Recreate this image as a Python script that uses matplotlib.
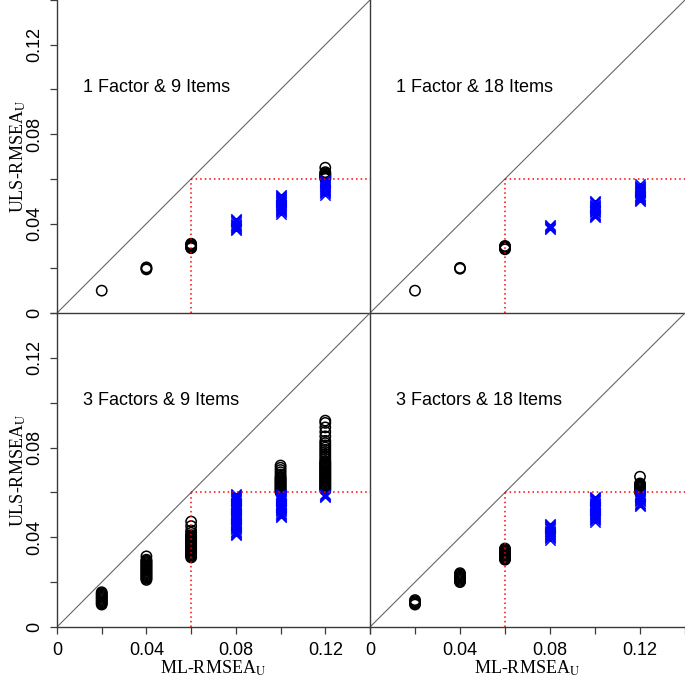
import matplotlib
matplotlib.use("Agg")
import matplotlib.pyplot as plt

plt.rcParams['font.family'] = ['Liberation Sans', 'DejaVu Sans']
plt.rcParams['mathtext.fontset'] = 'stix'

# ---- data (ML-RMSEA_U levels and ULS-RMSEA_U values) ----
ML_LEVELS = [0.02, 0.04, 0.06, 0.08, 0.10, 0.12]

P1_TITLE = "1 Factor & 9 Items"
P1_Y = [
    [0.0100],
    [0.0195, 0.0200, 0.0204],
    [0.0290, 0.0293, 0.0296, 0.0300, 0.0303, 0.0306, 0.0310],
    [0.037, 0.0375, 0.038, 0.0385, 0.039, 0.0395, 0.040, 0.0405,
     0.041, 0.0415, 0.042],
    [0.0445, 0.045, 0.0455, 0.046, 0.0465, 0.047, 0.0475, 0.048,
     0.0485, 0.049, 0.0495, 0.050, 0.0505, 0.051, 0.0515, 0.052,
     0.0525, 0.053],
    [0.053, 0.0535, 0.054, 0.0545, 0.055, 0.0555, 0.056, 0.0565,
     0.057, 0.0575, 0.058, 0.0585, 0.059, 0.0595,
     0.0600, 0.0605, 0.061, 0.0615, 0.062, 0.0625, 0.063, 0.065],
]

P2_TITLE = "1 Factor & 18 Items"
P2_Y = [
    [0.0100],
    [0.0198, 0.0202],
    [0.0285, 0.0288, 0.0291, 0.0294, 0.0297, 0.0300],
    [0.0375, 0.038, 0.0385, 0.039, 0.0395],
    [0.043, 0.0435, 0.044, 0.0445, 0.045, 0.0455, 0.046, 0.0465,
     0.047, 0.0475, 0.048, 0.0485, 0.049, 0.0495, 0.050],
    [0.050, 0.0505, 0.051, 0.0515, 0.052, 0.0525, 0.053, 0.0535,
     0.054, 0.0545, 0.055, 0.0555, 0.056, 0.0565, 0.057, 0.0575],
]

P3_TITLE = "3 Factors & 9 Items"
P3_Y = [
    [0.010, 0.0105, 0.011, 0.0115, 0.012, 0.0125, 0.013, 0.0135,
     0.014, 0.0145, 0.015, 0.0155],
    [0.021, 0.0215, 0.022, 0.0225, 0.023, 0.0235, 0.024, 0.0245,
     0.025, 0.0255, 0.026, 0.0265, 0.027, 0.0275, 0.028, 0.0285,
     0.029, 0.0295, 0.030, 0.0315],
    [0.031, 0.0315, 0.032, 0.0325, 0.033, 0.0335, 0.034, 0.0345,
     0.035, 0.0355, 0.036, 0.0365, 0.037, 0.0375, 0.038, 0.0385,
     0.039, 0.0395, 0.040, 0.0405, 0.041, 0.042, 0.043, 0.045, 0.047],
    [0.041, 0.0415, 0.042, 0.0425, 0.043, 0.0435, 0.044, 0.0445,
     0.045, 0.0455, 0.046, 0.0465, 0.047, 0.0475, 0.048, 0.0485,
     0.049, 0.0495, 0.050, 0.0505, 0.051, 0.0515, 0.052, 0.0525,
     0.053, 0.0535, 0.054, 0.0545, 0.055, 0.0555, 0.056, 0.0565,
     0.057, 0.0575, 0.058, 0.0585, 0.059, 0.0595],
    [0.049, 0.0495, 0.050, 0.0505, 0.051, 0.0515, 0.052, 0.0525,
     0.053, 0.0535, 0.054, 0.0545, 0.055, 0.0555, 0.056, 0.0565,
     0.057, 0.0575, 0.058, 0.0585, 0.059, 0.0595,
     0.060, 0.0605, 0.061, 0.0615, 0.062, 0.0625, 0.063, 0.0635,
     0.064, 0.0645, 0.065, 0.0655, 0.066, 0.0665, 0.067, 0.068,
     0.069, 0.070, 0.071, 0.072],
    [0.058, 0.0585, 0.059, 0.0595, 0.061, 0.0615, 0.062, 0.0625,
     0.063, 0.0635, 0.064, 0.0645, 0.065, 0.0655, 0.066, 0.0665,
     0.067, 0.0675, 0.068, 0.0685, 0.069, 0.0695, 0.070, 0.0705,
     0.071, 0.0715, 0.072, 0.0725, 0.073, 0.0735, 0.074, 0.075,
     0.076, 0.077, 0.078, 0.079, 0.080, 0.081, 0.082, 0.083, 0.085,
     0.087, 0.089, 0.091, 0.092],
]

P4_TITLE = "3 Factors & 18 Items"
P4_Y = [
    [0.0100, 0.0105, 0.0110, 0.0115, 0.0120],
    [0.020, 0.0205, 0.021, 0.0215, 0.022, 0.0225, 0.023, 0.0235,
     0.024],
    [0.030, 0.0305, 0.031, 0.0315, 0.032, 0.0325, 0.033, 0.0335,
     0.034, 0.0345, 0.035],
    [0.039, 0.0395, 0.040, 0.0405, 0.041, 0.0415, 0.042, 0.0425,
     0.043, 0.0435, 0.044, 0.0445, 0.045, 0.0455, 0.046],
    [0.047, 0.0475, 0.048, 0.0485, 0.049, 0.0495, 0.050, 0.0505,
     0.051, 0.0515, 0.052, 0.0525, 0.053, 0.0535, 0.054, 0.0545,
     0.055, 0.0555, 0.056, 0.0565, 0.057, 0.0575, 0.058],
    [0.054, 0.0545, 0.055, 0.0555, 0.056, 0.0565, 0.057, 0.0575,
     0.058, 0.0585, 0.059, 0.0595, 0.060, 0.0605, 0.061, 0.0615,
     0.062, 0.0625, 0.063, 0.0635, 0.064, 0.067],
]

CUTOFF = 0.06
TICKS = [0, 0.02, 0.04, 0.06, 0.08, 0.10, 0.12, 0.14]
TICK_LABELS = ["0", "", "0.04", "", "0.08", "", "0.12", ""]
XLABEL = r"ML-RMSEA$_{\mathrm{U}}$"
YLABEL = r"ULS-RMSEA$_{\mathrm{U}}$"

W, H = 685, 682
fig = plt.figure(figsize=(W / 100, H / 100), dpi=100)

def rect(x0, y0, x1, y1):
    return [x0 / W, 1 - y1 / H, (x1 - x0) / W, (y1 - y0) / H]

panels = [
    (rect(57, 0, 370, 313), P1_TITLE, P1_Y, True, False),
    (rect(370, 0, 685, 313), P2_TITLE, P2_Y, False, False),
    (rect(57, 313, 370, 627), P3_TITLE, P3_Y, True, True),
    (rect(370, 313, 685, 627), P4_TITLE, P4_Y, False, True),
]

spine_col = "#3a3a3a"
for r, title, ys, show_y, show_x in panels:
    ax = fig.add_axes(r)
    ax.set_xlim(0, 0.14)
    ax.set_ylim(0, 0.14)
    ax.patch.set_alpha(0)
    for s in ["top", "right"]:
        ax.spines[s].set_visible(False)
    for s in ["left", "bottom"]:
        ax.spines[s].set_color(spine_col)
        ax.spines[s].set_linewidth(1.0)
    # diagonal
    ax.plot([0, 0.14], [0, 0.14], color="#666666", lw=0.8, zorder=1)
    # points
    for xv, col in zip(ML_LEVELS, ys):
        blk = [v for v in col if not (xv > CUTOFF and v < CUTOFF)]
        blu = [v for v in col if (xv > CUTOFF and v < CUTOFF)]
        if blk:
            ax.scatter([xv] * len(blk), blk, s=55, facecolors="none",
                       edgecolors="black", linewidths=1.1, zorder=3)
        if blu:
            ax.scatter([xv] * len(blu), blu, s=55, marker="x",
                       color="#0000ff", linewidths=1.1, zorder=3)
    # cutoff lines
    ax.plot([CUTOFF, CUTOFF], [0, CUTOFF], color="red", lw=1.1,
            ls=(0, (1, 2)), zorder=4)
    ax.plot([CUTOFF, 0.14], [CUTOFF, CUTOFF], color="red", lw=1.1,
            ls=(0, (1, 2)), zorder=4)
    ax.text(0.0115, 0.101, title, fontsize=13, va="center", ha="left")

    ax.set_xticks(TICKS)
    ax.set_yticks(TICKS)
    ax.tick_params(direction="out", length=5, width=0.9, color=spine_col,
                   labelsize=13)
    if show_x:
        ax.set_xticklabels(TICK_LABELS)
        ax.tick_params(axis="x", pad=6)
    else:
        ax.tick_params(axis="x", length=0, labelbottom=False)
    if show_y:
        ax.set_yticklabels(TICK_LABELS, rotation=90, va="center")
        ax.tick_params(axis="y", pad=5)
    else:
        ax.tick_params(axis="y", length=0, labelleft=False)

# axis labels
for yc in [156, 470]:
    fig.text(18 / W, 1 - yc / H, YLABEL, rotation=90, ha="center",
             va="center", fontsize=13, family="Liberation Serif")
for xc in [213, 527]:
    fig.text(xc / W, 1 - 668 / H, XLABEL, ha="center", va="center",
             fontsize=13, family="Liberation Serif")

fig.savefig("out.png", dpi=100)
